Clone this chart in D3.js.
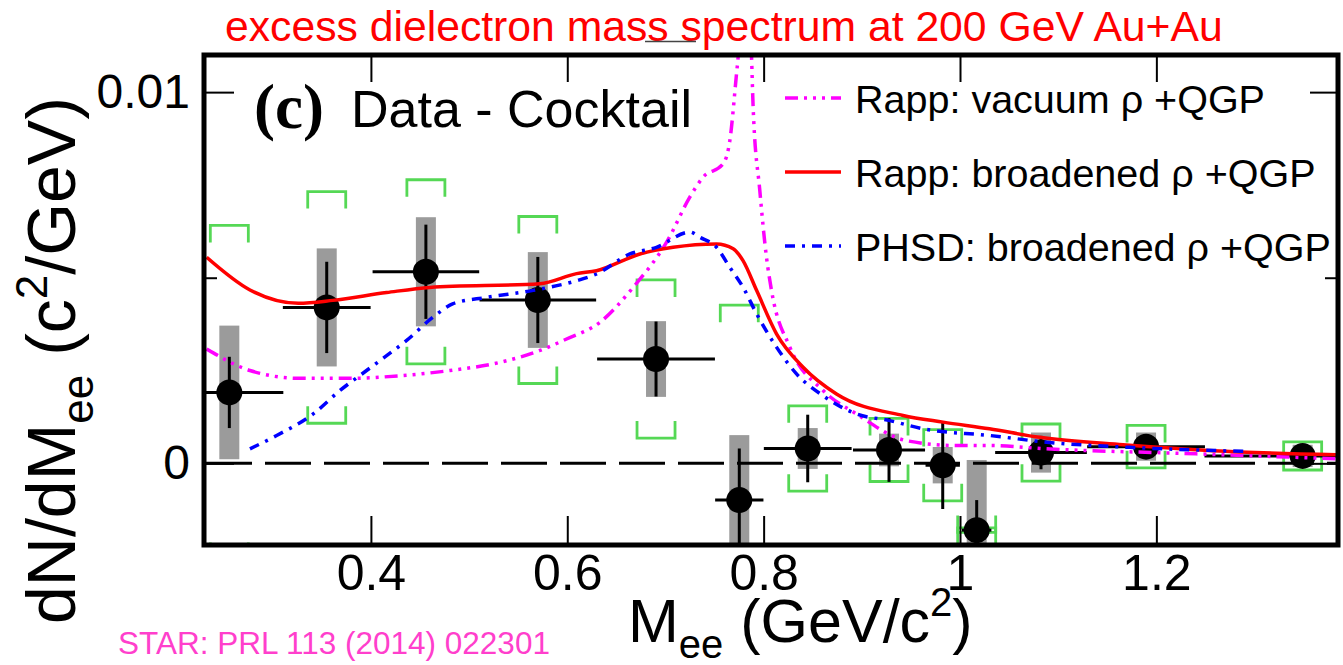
<!DOCTYPE html>
<html>
<head>
<meta charset="utf-8">
<script src="https://cdn.jsdelivr.net/npm/d3@7"></script>
<style>
  body { margin: 0; background: #fff; }
  svg { display: block; }
  text { font-family: "Liberation Sans", Arial, Helvetica, sans-serif; }
</style>
</head>
<body>
<svg id="chart" width="1343" height="665"></svg>
<script>
// Excess dielectron yield (data minus cocktail), STAR Au+Au at 200 GeV

// ---- measured points ----
const massCenters    = [0.2558, 0.355, 0.456, 0.570, 0.6904, 0.7752, 0.8449, 0.9277, 0.9824, 1.017, 1.0825, 1.1895, 1.349];
const massHalfWidths = [0.055, 0.0447, 0.0543, 0.0594, 0.060, 0.0246, 0.0447, 0.0367, 0.0175, 0.015, 0.0467, 0.060, 0.100];
const excessYield    = [0.00191, 0.00420, 0.00516, 0.00440, 0.00281, -0.00099, 0.00040, 0.00036, -0.00005, -0.00180, 0.00029, 0.00045, 0.00020];
const statErr        = [0.00096, 0.00123, 0.00127, 0.00116, 0.00101, 0.00139, 0.00091, 0.00086, 0.00118, 0.00081, 0.00045, 0.00030, 0.00025];
const sysErr         = [0.00180, 0.00159, 0.00147, 0.00129, 0.00102, 0.00175, 0.00055, 0.00044, 0.00049, 0.00189, 0.00054, 0.00038, 0.00030];
const cocktailErr    = [0.00450, 0.00312, 0.00248, 0.00225, 0.00213, 0.00525, 0.00115, 0.00085, 0.00096, 0.00006, 0.00077, 0.00057, 0.00038];

// ---- model curves: [mass, dN/dM] ----
const rappVacuum = [
  [0.2327,0.00308],[0.2768,0.00250],[0.3277,0.00229],[0.3786,0.00229],[0.4295,0.00236],
  [0.4804,0.00250],[0.5314,0.00272],[0.5721,0.00304],[0.5993,0.00335],[0.6333,0.00380],
  [0.6671,0.00474],[0.7021,0.00600],[0.7248,0.00717],[0.7384,0.00771],[0.7588,0.00807],
  [0.7656,0.00870],[0.7724,0.01050],[0.7740,0.01094],[0.7800,0.01500],[0.7877,0.01094],
  [0.7893,0.00960],[0.7961,0.00735],[0.8029,0.00555],[0.8080,0.00466],[0.8267,0.00313],
  [0.8606,0.00196],[0.8946,0.00133],[0.9455,0.00061],[0.9964,0.00048],[1.0303,0.00048],
  [1.0880,0.00039],[1.2238,0.00027],[1.3868,0.00012]
];
const rappBroadened = [
  [0.2327,0.00555],[0.2768,0.00467],[0.3260,0.00431],[0.3613,0.00439],[0.4160,0.00460],
  [0.4600,0.00474],[0.5721,0.00484],[0.6095,0.00511],[0.6298,0.00519],[0.6740,0.00564],
  [0.7078,0.00582],[0.7520,0.00591],[0.7690,0.00578],[0.7790,0.00546],[0.7928,0.00466],
  [0.8131,0.00349],[0.8402,0.00259],[0.8742,0.00187],[0.9420,0.00129],[0.9828,0.00111],
  [1.0300,0.00093],[1.0813,0.00070],[1.1660,0.00050],[1.2577,0.00034],[1.3870,0.00023]
];
const phsdBroadened = [
  [0.2768,0.00039],[0.3040,0.00075],[0.3412,0.00133],[0.3684,0.00196],[0.3956,0.00250],
  [0.4160,0.00290],[0.4364,0.00331],[0.4634,0.00394],[0.4838,0.00430],[0.5178,0.00447],
  [0.5653,0.00466],[0.6095,0.00492],[0.6298,0.00510],[0.6638,0.00564],[0.6909,0.00582],
  [0.7248,0.00623],[0.7350,0.00609],[0.7520,0.00582],[0.7656,0.00528],[0.7791,0.00474],
  [0.7928,0.00403],[0.8131,0.00313],[0.8335,0.00241],[0.8606,0.00182],[0.8946,0.00133],
  [0.9285,0.00115],[0.9624,0.00093],[1.0303,0.00075],[1.0880,0.00057],[1.1729,0.00043],
  [1.2917,0.00032]
];

// ---- axis ticks and labels ----
const xTicks = [0.4, 0.6, 0.8, 1.0, 1.2];
const xTickLabels = ["0.4", "0.6", "0.8", "1", "1.2"];
const yTicks = [0, 0.01];
const yTickLabels = ["0", "0.01"];
const yMinorTicks = [0.005];
const legendLabels = ["Rapp: vacuum \u03C1 +QGP", "Rapp: broadened \u03C1 +QGP", "PHSD: broadened \u03C1 +QGP"];

// ---- layout ----
const svg = d3.select("#chart");
const frame = { left: 204, right: 1338, top: 55, bottom: 545 };
const x = d3.scaleLinear().domain([0.23, 1.385]).range([frame.left, frame.right]);
const y = d3.scaleLinear().domain([-0.0022, 0.011]).range([frame.bottom, frame.top]);

svg.append("defs").append("clipPath").attr("id", "plotClip")
  .append("rect")
  .attr("x", frame.left + 2).attr("y", frame.top + 2)
  .attr("width", frame.right - frame.left - 4).attr("height", frame.bottom - frame.top - 4);

const plot = svg.append("g").attr("clip-path", "url(#plotClip)");

const pts = massCenters.map((m, i) => ({
  m, hw: massHalfWidths[i], v: excessYield[i], st: statErr[i], sy: sysErr[i], ck: cocktailErr[i]
}));

// systematic boxes
plot.append("g").selectAll("rect").data(pts).join("rect")
  .attr("x", d => x(d.m) - 10).attr("width", 20)
  .attr("y", d => y(d.v + d.sy)).attr("height", d => y(d.v - d.sy) - y(d.v + d.sy))
  .attr("fill", "#9b9b9b");

// cocktail uncertainty brackets
const legLen = 17, halfW = 19;
const brackets = plot.append("g").attr("fill", "none").attr("stroke", "#55d855").attr("stroke-width", 2.8);
brackets.selectAll("path.top").data(pts).join("path").attr("class", "top")
  .attr("d", d => {
    const cx = x(d.m), t = y(d.v + d.ck);
    return `M${cx - halfW},${t + legLen}V${t}H${cx + halfW}V${t + legLen}`;
  });
brackets.selectAll("path.bot").data(pts).join("path").attr("class", "bot")
  .attr("d", d => {
    const cx = x(d.m), b = y(d.v - d.ck);
    return `M${cx - halfW},${b - legLen}V${b}H${cx + halfW}V${b - legLen}`;
  });

// zero line
plot.append("line")
  .attr("x1", frame.left + 2).attr("x2", frame.right)
  .attr("y1", y(0)).attr("y2", y(0))
  .attr("stroke", "#000").attr("stroke-width", 3).attr("stroke-dasharray", "46,13");

// statistical error bars
const bars = plot.append("g").attr("stroke", "#000").attr("stroke-width", 3);
bars.selectAll("line.v").data(pts).join("line").attr("class", "v")
  .attr("x1", d => x(d.m)).attr("x2", d => x(d.m))
  .attr("y1", d => y(d.v + d.st)).attr("y2", d => y(d.v - d.st));
bars.selectAll("line.h").data(pts).join("line").attr("class", "h")
  .attr("x1", d => x(d.m - d.hw)).attr("x2", d => x(d.m + d.hw))
  .attr("y1", d => y(d.v)).attr("y2", d => y(d.v));

// markers
plot.append("g").selectAll("circle").data(pts).join("circle")
  .attr("cx", d => x(d.m)).attr("cy", d => y(d.v)).attr("r", 13).attr("fill", "#000");

// model curves
const line = d3.line().x(d => x(d[0])).y(d => y(d[1])).curve(d3.curveMonotoneX);
const curveStyles = [
  { data: rappVacuum,    color: "#ff00ff", dash: "13,6,3,6,3,6,3,6", width: 3.5 },
  { data: rappBroadened, color: "#ff0000", dash: null,               width: 3.5 },
  { data: phsdBroadened, color: "#0000ff", dash: "10,7,3,7",         width: 3.5 }
];
curveStyles.forEach(c => {
  plot.append("path").datum(c.data)
    .attr("d", line).attr("fill", "none")
    .attr("stroke", c.color).attr("stroke-width", c.width)
    .attr("stroke-dasharray", c.dash);
});

// axes: ticks pointing inward
const axisStyle = g => {
  g.select(".domain").remove();
  g.selectAll(".tick line").attr("stroke", "#000").attr("stroke-width", 2);
};
const xBottom = svg.append("g").attr("transform", `translate(0,${frame.bottom})`)
  .call(d3.axisBottom(x).tickValues(xTicks).tickFormat((d, i) => xTickLabels[i])
    .tickSizeInner(-29).tickSizeOuter(0).tickPadding(9))
  .call(axisStyle);
xBottom.selectAll("text").attr("font-size", 50).attr("fill", "#000")
  .style("font-family", "'Liberation Sans', Arial, sans-serif");

svg.append("g").attr("transform", `translate(0,${frame.top})`)
  .call(d3.axisTop(x).tickValues(xTicks).tickFormat("").tickSizeInner(-27).tickSizeOuter(0))
  .call(axisStyle);

const yLeft = svg.append("g").attr("transform", `translate(${frame.left},0)`)
  .call(d3.axisLeft(y).tickValues(yTicks).tickFormat((d, i) => yTickLabels[i])
    .tickSizeInner(-30).tickSizeOuter(0).tickPadding(14))
  .call(axisStyle);
yLeft.selectAll("text").attr("font-size", 48).attr("fill", "#000")
  .style("font-family", "'Liberation Sans', Arial, sans-serif");

svg.append("g").attr("transform", `translate(${frame.left},0)`)
  .call(d3.axisLeft(y).tickValues(yMinorTicks).tickFormat("").tickSizeInner(-13).tickSizeOuter(0))
  .call(axisStyle);
svg.append("g").attr("transform", `translate(${frame.right},0)`)
  .call(d3.axisRight(y).tickValues(yTicks).tickFormat("").tickSizeInner(-28).tickSizeOuter(0))
  .call(axisStyle);
svg.append("g").attr("transform", `translate(${frame.right},0)`)
  .call(d3.axisRight(y).tickValues(yMinorTicks).tickFormat("").tickSizeInner(-13).tickSizeOuter(0))
  .call(axisStyle);

// frame
svg.append("rect")
  .attr("x", frame.left).attr("y", frame.top)
  .attr("width", frame.right - frame.left).attr("height", frame.bottom - frame.top)
  .attr("fill", "none").attr("stroke", "#000").attr("stroke-width", 5);

// panel labels
svg.append("text").attr("x", 254).attr("y", 128)
  .style("font-family", "'Liberation Serif', 'Times New Roman', serif")
  .attr("font-weight", "bold").attr("font-size", 63).text("(c)");
svg.append("text").attr("x", 351).attr("y", 127).attr("font-size", 52).text("Data - Cocktail");

// legend
const legend = svg.append("g");
legendLabels.forEach((lab, i) => {
  const c = curveStyles[i];
  const ly = 98 + i * 74;
  legend.append("line").attr("x1", 785).attr("x2", 841).attr("y1", ly).attr("y2", ly)
    .attr("stroke", c.color).attr("stroke-width", 3.5).attr("stroke-dasharray", c.dash);
  legend.append("text").attr("x", 855).attr("y", ly + 15).attr("font-size", 39.5).text(lab);
});

// axis titles
const xTitle = svg.append("text").attr("x", 628).attr("y", 642).attr("font-size", 61);
xTitle.append("tspan").text("M");
xTitle.append("tspan").attr("font-size", 40).attr("dy", 16).text("ee");
xTitle.append("tspan").attr("dy", -16).text(" (GeV/c");
xTitle.append("tspan").attr("font-size", 40).attr("dy", -26).text("2");
xTitle.append("tspan").attr("dy", 26).text(")");

const yTitle = svg.append("text").attr("transform", "translate(75,624) rotate(-90)").attr("font-size", 68);
yTitle.append("tspan").text("dN/dM");
yTitle.append("tspan").attr("font-size", 44).attr("dy", 18).text("ee");
yTitle.append("tspan").attr("dy", -18).text(" (c");
yTitle.append("tspan").attr("font-size", 44).attr("dy", -28).text("2");
yTitle.append("tspan").attr("dy", 28).text("/GeV)");

// header and reference
svg.append("text").attr("x", 225).attr("y", 41).attr("font-size", 42.7).attr("fill", "#ff0000")
  .text("excess dielectron mass spectrum at 200 GeV Au+Au");
svg.append("line").attr("x1", 645).attr("x2", 696).attr("y1", 41.5).attr("y2", 41.5)
  .attr("stroke", "#444").attr("stroke-width", 1.5);
svg.append("text").attr("x", 118).attr("y", 654).attr("font-size", 31.5).attr("fill", "#ff3fcc")
  .text("STAR: PRL 113 (2014) 022301");
</script>
</body>
</html>
